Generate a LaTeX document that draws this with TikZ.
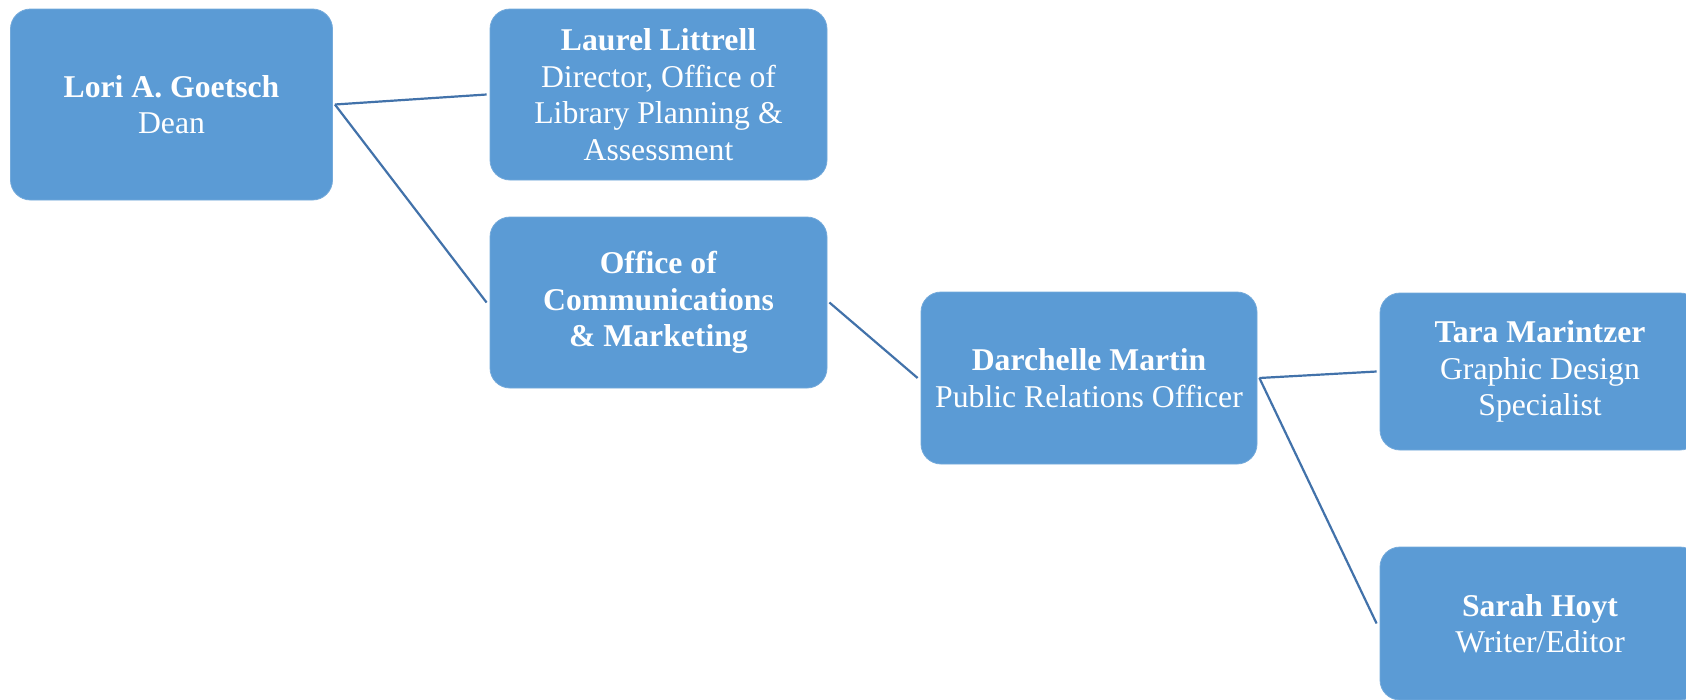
\documentclass[tikz,border=0pt]{standalone}
\usepackage{fontspec}
\setmainfont{Liberation Serif}
\definecolor{boxblue}{HTML}{5B9BD5}
\definecolor{lineblue}{HTML}{4272AA}
\begin{document}
\begin{tikzpicture}[x=1pt,y=-1pt,
  orgbox/.style={rectangle, rounded corners=20pt, fill=boxblue, draw=boxblue!85!white, line width=0.8pt,
    text=white, align=center, inner sep=0pt,
    font=\fontsize{31.7}{36.5}\selectfont},
  link/.style={draw=lineblue, line width=2.2pt}]
\useasboundingbox (0,0) rectangle (1686,699);
\fill[white] (0,0) rectangle (1686,699);
\node[orgbox, minimum width=322pt, minimum height=191pt] (lori) at (171.5,104.5)
  {\textbf{Lori A. Goetsch}\\Dean};
\node[orgbox, minimum width=337pt, minimum height=171pt] (laurel) at (658.5,94.5)
  {\textbf{Laurel Littrell}\\Director, Office of\\Library Planning \&\\Assessment};
\node[orgbox, minimum width=337pt, minimum height=171pt] (office) at (658.5,302.5)
  {\textbf{Office of}\\\textbf{Communications}\\\textbf{\& Marketing}};
\node[orgbox, minimum width=336pt, minimum height=172pt] (darch) at (1089,378)
  {\textbf{Darchelle Martin}\\Public Relations Officer};
\node[orgbox, minimum width=320pt, minimum height=157pt] (tara) at (1540,371.5)
  {\textbf{Tara Marintzer}\\Graphic Design\\Specialist};
\node[orgbox, minimum width=320pt, minimum height=153pt] (sarah) at (1540,623.5)
  {\textbf{Sarah Hoyt}\\Writer/Editor};
\draw[link] ([xshift=2pt]lori.east) -- ([xshift=-3pt]laurel.west);
\draw[link] ([xshift=2pt]lori.east) -- ([xshift=-3pt]office.west);
\draw[link] ([xshift=2pt]office.east) -- ([xshift=-3pt]darch.west);
\draw[link] ([xshift=2pt]darch.east) -- ([xshift=-3pt]tara.west);
\draw[link] ([xshift=2pt]darch.east) -- ([xshift=-3pt]sarah.west);
\end{tikzpicture}
\end{document}
